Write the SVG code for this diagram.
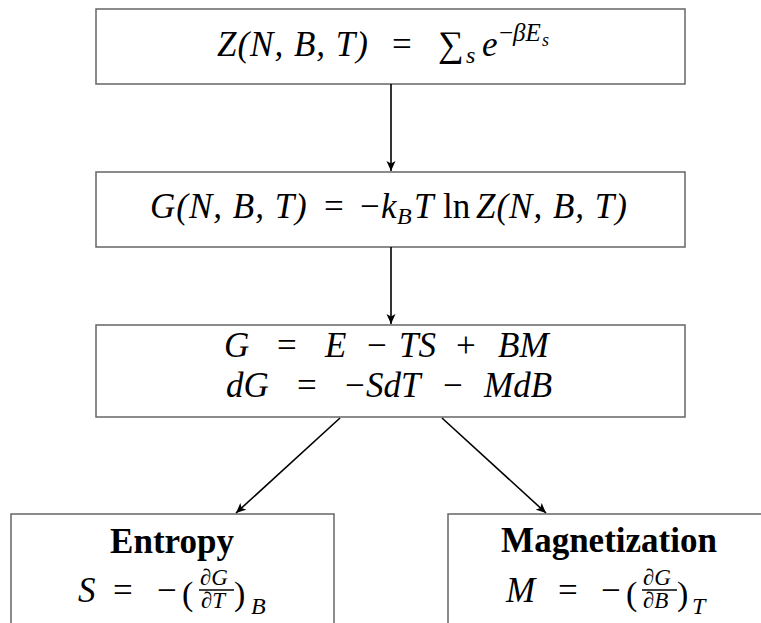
<svg xmlns="http://www.w3.org/2000/svg" width="761" height="623" viewBox="0 0 761 623">
<defs>
<marker id="arr" viewBox="0 0 10 10" refX="10" refY="5" markerWidth="10" markerHeight="10" markerUnits="userSpaceOnUse" orient="auto">
<path d="M0,0.5 L10,5 L0,9.5 L2.5,5 Z" fill="#000"/>
</marker>
<style>
.box{fill:#fff;stroke:#666;stroke-width:1.5}
.m{font-family:"Liberation Serif","Times New Roman",serif;font-size:35px;fill:#000}
.i{font-style:italic}
.b{font-weight:bold}
.w{letter-spacing:1px}
.sub{font-size:24px}
.sup{font-size:25px}
.ss{font-size:18px}
.fr{font-size:23px}
.par{font-size:34px}
.conn line{stroke:#000;stroke-width:1.6;marker-end:url(#arr)}
</style>
</defs>
<rect width="761" height="623" fill="#fff"/>

<g id="partition">
<rect class="box" x="96" y="9" width="589" height="75"/>
<text class="m" y="56"><tspan class="i w" x="217">Z(N, B, T)</tspan><tspan x="392">=</tspan><tspan x="438" font-size="36">∑</tspan><tspan class="i sub" x="466" dy="7">s</tspan><tspan class="i" x="482" dy="-7">e</tspan><tspan class="sup" x="499" dy="-15">−</tspan><tspan class="i sup" x="513">βE</tspan><tspan class="i ss" x="542" dy="5">s</tspan></text>
</g>

<g id="gibbs">
<rect class="box" x="96" y="172" width="589" height="75"/>
<text class="m" y="218"><tspan class="i w" x="150">G(N, B, T)</tspan><tspan x="324">=</tspan><tspan x="360">−</tspan><tspan class="i" x="381">k</tspan><tspan class="i sub" x="397" dy="6">B</tspan><tspan class="i" x="414" dy="-6">T</tspan><tspan x="443">ln</tspan><tspan class="i w" x="476">Z(N, B, T)</tspan></text>
</g>

<g id="relations">
<rect class="box" x="96" y="325" width="589" height="92"/>
<text class="m" y="357"><tspan class="i" x="224">G</tspan><tspan x="277">=</tspan><tspan class="i" x="325">E</tspan><tspan x="367">−</tspan><tspan class="i" x="399">TS</tspan><tspan x="456">+</tspan><tspan class="i" x="498">BM</tspan></text>
<text class="m" y="397"><tspan class="i" x="226">dG</tspan><tspan x="297">=</tspan><tspan x="345">−</tspan><tspan class="i" x="366">SdT</tspan><tspan x="443">−</tspan><tspan class="i" x="484">MdB</tspan></text>
</g>

<g id="entropy">
<rect class="box" x="11" y="514" width="323" height="130"/>
<text class="m b" x="172" y="553" text-anchor="middle" font-size="34">Entropy</text>
<text class="m" y="602"><tspan class="i" x="78">S</tspan><tspan x="113">=</tspan><tspan x="157">−</tspan><tspan class="par" x="182" dy="3">(</tspan><tspan class="i fr" x="200" dy="-20">∂G</tspan><tspan class="i fr" x="201" dy="23">∂T</tspan><tspan class="par" x="234" dy="-3">)</tspan><tspan class="i sub" x="251" dy="9">B</tspan></text>
<line x1="199" y1="590" x2="234" y2="590" stroke="#000" stroke-width="1.5"/>
</g>

<g id="magnetization">
<rect class="box" x="448" y="514" width="330" height="130"/>
<text class="m b" x="609" y="552" text-anchor="middle" font-size="35">Magnetization</text>
<text class="m" y="602"><tspan class="i" x="506">M</tspan><tspan x="558">=</tspan><tspan x="601">−</tspan><tspan class="par" x="626" dy="3">(</tspan><tspan class="i fr" x="643" dy="-20">∂G</tspan><tspan class="i fr" x="643" dy="23">∂B</tspan><tspan class="par" x="677" dy="-3">)</tspan><tspan class="i sub" x="692" dy="9">T</tspan></text>
<line x1="642" y1="590" x2="677" y2="590" stroke="#000" stroke-width="1.5"/>
</g>

<g id="connectors" class="conn">
<line x1="391" y1="84" x2="391" y2="171"/>
<line x1="391" y1="247" x2="391" y2="324"/>
<line x1="340" y1="418" x2="236" y2="513"/>
<line x1="442" y1="418" x2="546" y2="513"/>
</g>
</svg>
